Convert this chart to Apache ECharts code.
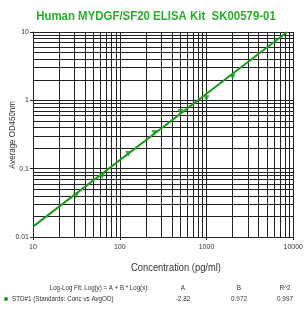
<!DOCTYPE html>
<html lang="en">
<head>
    <meta charset="UTF-8">
    <title>Human MYDGF/SF20 ELISA Kit</title>
    <style>
        html,body{
            margin: 0;
            width: 100%;
            height: 100%;
            background: #fff;
        }
        #chartmain{
            width: 306px;
            height: 314px;
        }
    </style>
</head>
<body>
<div id="chartmain"></div>
<script src="https://cdn.jsdelivr.net/npm/echarts@6.0.0/dist/echarts.min.js"></script>
<script type="text/javascript">
    // standards (pg/ml) and average OD450
    var conc = [31.25, 62.5, 125, 250, 500, 1000, 2000];
    var avgOD = [0.043, 0.083, 0.175, 0.355, 0.72, 1.15, 2.35];
    // fitted line end points
    var fitX = [10, 8500];
    var fitY = [0.0142, 10];
    // minor grid positions
    var minorX = [20, 30, 40, 50, 60, 70, 80, 90, 200, 300, 400, 500, 600, 700, 800, 900,
                  2000, 3000, 4000, 5000, 6000, 7000, 8000, 9000];
    var minorY = [0.02, 0.03, 0.04, 0.05, 0.06, 0.07, 0.08, 0.09, 0.2, 0.3, 0.4, 0.5, 0.6, 0.7, 0.8, 0.9,
                  2, 3, 4, 5, 6, 7, 8, 9];
    var fitHead = ['A', 'B', 'R^2'];
    var fitVals = ['-2.82', '0.972', '0.997'];

    var font = "'Liberation Sans', Arial, sans-serif";
    var green = '#1e9b1e';
    var txt = '#333';

    var gridMarks = [];
    for (let i = 0; i < minorX.length; i++) gridMarks.push({xAxis: minorX[i]});
    for (let i = 0; i < minorY.length; i++) gridMarks.push({yAxis: minorY[i]});

    // narrow looking text: normal font squeezed horizontally
    function label(str, x, y, size, align, sx, extra) {
        var el = {type: 'text', x: x, y: y, scaleX: sx, silent: true,
            style: {text: str, font: size + 'px ' + font, fill: txt, align: align, verticalAlign: 'middle'}};
        for (var k in extra) el[k] = extra[k];
        return el;
    }

    var texts = [
        {type: 'text', x: 156, y: 16, scaleX: 0.88, silent: true,
         style: {text: 'Human MYDGF/SF20 ELISA Kit  SK00579-01', font: 'bold 13px ' + font,
                 fill: '#2aae2a', align: 'center', verticalAlign: 'middle'}},
        label('Average OD450nm', 13, 135, 9, 'center', 0.88, {rotation: Math.PI / 2}),
        label('Concentration (pg/ml)', 176, 268, 11, 'center', 0.85),
        label('Log-Log Fit: Log(y) = A + B * Log(x):', 149, 288, 8, 'right', 0.77),
        {type: 'circle', shape: {cx: 6, cy: 299, r: 2}, style: {fill: green}, silent: true},
        label('STD#1 (Standards: Conc vs AvgOD)', 12, 299, 8, 'left', 0.78)
    ];
    var colX = [183, 239, 285];
    for (let i = 0; i < fitHead.length; i++) {
        texts.push(label(fitHead[i], colX[i], 288, 8, 'center', 0.8));
        texts.push(label(fitVals[i], colX[i], 299, 8, 'center', 0.8));
    }

    var fitData = [];
    for (let i = 0; i < fitX.length; i++) fitData.push([fitX[i], fitY[i]]);
    var stdData = [];
    for (let i = 0; i < conc.length; i++) stdData.push([conc[i], avgOD[i]]);

    var option = {
        animation: false,
        grid: {left: 33, top: 32, right: 12, bottom: 77},
        xAxis: {
            type: 'log',
            min: 10,
            max: 10000,
            logBase: 10,
            axisLine: {lineStyle: {color: '#222'}},
            axisTick: {length: 3, lineStyle: {color: '#222'}},
            axisLabel: {fontFamily: font, fontSize: 7, color: txt, margin: 7,
                formatter: function (v) { return String(Math.round(v)); }},
            splitLine: {show: true, lineStyle: {color: '#222', width: 1}}
        },
        yAxis: {
            type: 'log',
            min: 0.01,
            max: 10,
            logBase: 10,
            axisLine: {show: true, lineStyle: {color: '#222'}},
            axisTick: {show: true, length: 3, lineStyle: {color: '#222'}},
            axisLabel: {fontFamily: font, fontSize: 7, color: txt, margin: 4,
                formatter: function (v) { return String(+v.toPrecision(3)); }},
            splitLine: {show: true, lineStyle: {color: '#222', width: 1}}
        },
        graphic: texts,
        series: [{
            type: 'line',
            data: fitData,
            showSymbol: false,
            silent: true,
            lineStyle: {color: green, width: 2},
            z: 5,
            markLine: {
                silent: true,
                symbol: 'none',
                label: {show: false},
                lineStyle: {type: 'solid', color: '#222', width: 1},
                data: gridMarks,
                z: 1
            }
        }, {
            type: 'scatter',
            data: stdData,
            symbol: 'triangle',
            symbolRotate: 180,
            symbolSize: 6,
            symbolOffset: [0, 2],
            itemStyle: {color: green},
            z: 6
        }]
    };

    var myChart = echarts.init(document.getElementById('chartmain'));
    myChart.setOption(option);
</script>
</body>
</html>
